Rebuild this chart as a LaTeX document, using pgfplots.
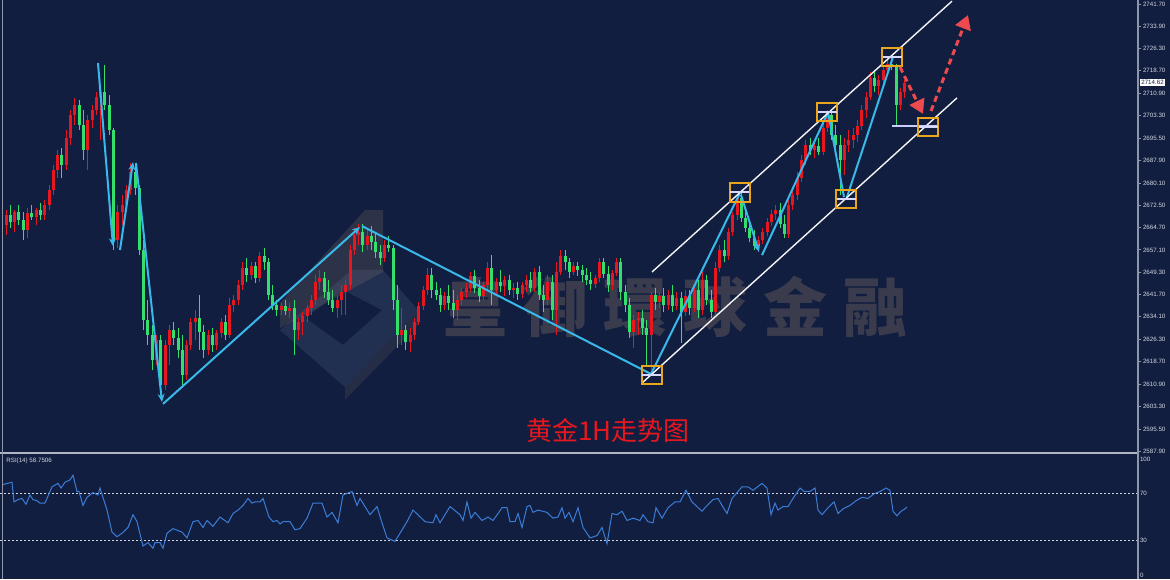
\documentclass[border=0pt]{standalone}
\usepackage{fontspec}
\setmainfont{Liberation Sans}
\newfontfamily\cjk{Noto Sans CJK SC}
\usepackage{pgfplots}
\pgfplotsset{compat=1.18}
\usepackage{pgfplotstable}
\usetikzlibrary{arrows.meta}
\definecolor{bgc}{HTML}{111E40}
\definecolor{upred}{HTML}{E8161E}
\definecolor{dngreen}{HTML}{34DF6C}
\definecolor{axgray}{HTML}{8D95A8}
\definecolor{lblgray}{HTML}{D2D6E0}
\definecolor{cyanl}{HTML}{39B9E9}
\definecolor{boxor}{HTML}{E9A51C}
\definecolor{arrred}{HTML}{EC4A4E}
\definecolor{rsiblue}{HTML}{3C7DD6}
\definecolor{wmgray}{HTML}{3A3C4E}
\definecolor{tanc}{HTML}{8C7C62}
\definecolor{logol}{HTML}{7A88A8}

\pgfplotstableread{
x o h l c
6 2665.7 2670.8 2662.2 2669.1
10.3 2669.1 2672.5 2664.6 2666.7
14.6 2666.7 2670.8 2663.3 2670.1
18.9 2670.1 2672.5 2665.7 2667.4
23.2 2667.4 2670.1 2660.5 2663.9
27.5 2663.9 2671.5 2661.2 2669.8
31.8 2669.8 2672.5 2667.4 2668.4
36.1 2668.4 2671.5 2665.7 2670.8
40.4 2670.8 2673.2 2667.4 2669.1
44.7 2669.1 2674.3 2667.4 2672.5
49 2672.5 2679.4 2670.8 2677.7
53.3 2677.7 2686.3 2676.0 2684.6
57.6 2684.6 2691.5 2681.8 2689.7
61.9 2689.7 2692.2 2681.8 2686.3
66.2 2686.3 2698.4 2684.6 2695.6
70.5 2695.6 2705.2 2693.2 2703.5
74.8 2703.5 2709.4 2700.1 2707.0
79.1 2707.0 2708.7 2698.4 2700.1
83.4 2700.1 2705.2 2688.0 2691.5
87.7 2691.5 2703.5 2684.6 2701.8
92 2701.8 2707.0 2699.0 2705.2
96.3 2705.2 2711.4 2703.5 2709.7
100.6 2709.7 2712.8 2694.9 2711.4
104.9 2711.4 2720.7 2705.2 2707.0
109.2 2707.0 2710.4 2696.6 2698.4
113.5 2698.4 2699.0 2657.1 2660.5
117.8 2660.5 2672.5 2657.8 2670.1
122.1 2670.1 2676.0 2665.7 2672.5
126.4 2672.5 2679.4 2670.8 2677.7
130.7 2677.7 2687.0 2676.0 2683.9
135 2683.9 2686.3 2676.0 2678.4
139.3 2678.4 2679.4 2655.3 2657.1
143.6 2657.1 2660.5 2629.5 2633.0
147.9 2633.0 2639.9 2624.4 2627.8
152.2 2627.8 2631.3 2615.8 2619.2
156.5 2619.2 2627.8 2617.5 2626.1
160.8 2626.1 2627.8 2608.9 2610.6
165.1 2610.6 2626.1 2608.9 2624.4
169.4 2624.4 2631.3 2617.5 2629.5
173.7 2629.5 2632.3 2624.4 2626.8
178 2626.8 2630.2 2619.9 2622.7
182.3 2622.7 2627.8 2610.6 2614.1
186.6 2614.1 2626.1 2612.3 2624.4
190.9 2624.4 2633.7 2622.7 2632.3
195.2 2632.3 2636.4 2626.1 2633.7
199.5 2633.7 2641.6 2622.7 2628.9
203.8 2628.9 2631.3 2619.9 2622.7
208.1 2622.7 2629.5 2620.9 2627.8
212.4 2627.8 2630.2 2622.0 2624.4
216.7 2624.4 2629.5 2622.7 2628.5
221 2628.5 2633.7 2626.8 2632.3
225.3 2632.3 2634.7 2626.1 2627.8
229.6 2627.8 2640.5 2626.8 2638.1
233.9 2638.1 2641.6 2635.7 2639.9
238.2 2639.9 2646.7 2638.1 2645.0
242.5 2645.0 2652.9 2643.3 2650.9
246.8 2650.9 2654.3 2646.1 2648.5
251.1 2648.5 2652.9 2646.7 2651.6
255.4 2651.6 2652.9 2645.7 2647.4
259.7 2647.4 2656.4 2646.1 2655.0
264 2655.0 2657.8 2650.2 2652.9
268.3 2652.9 2654.3 2639.9 2641.6
272.6 2641.6 2645.0 2636.4 2638.1
276.9 2638.1 2639.9 2634.4 2636.4
281.2 2636.4 2638.8 2634.7 2637.8
285.5 2637.8 2639.9 2634.7 2636.1
289.8 2636.1 2638.8 2633.7 2637.1
294.1 2637.1 2639.9 2620.9 2629.5
298.4 2629.5 2633.7 2626.1 2632.3
302.7 2632.3 2635.7 2627.8 2634.4
307 2634.4 2638.1 2632.3 2637.1
311.3 2637.1 2641.6 2634.7 2639.9
315.6 2639.9 2648.5 2638.1 2646.1
319.9 2646.1 2650.2 2643.3 2647.4
324.2 2647.4 2649.5 2640.5 2642.6
328.5 2642.6 2646.7 2638.1 2639.9
332.8 2639.9 2643.3 2635.7 2637.1
337.1 2637.1 2641.6 2633.7 2639.9
341.4 2639.9 2645.0 2634.7 2642.6
345.7 2642.6 2646.7 2634.7 2645.0
350 2645.0 2658.8 2643.3 2657.1
354.3 2657.1 2664.6 2655.3 2662.2
358.6 2662.2 2666.0 2658.8 2663.3
362.9 2663.3 2666.0 2656.4 2658.8
367.2 2658.8 2664.6 2657.1 2661.9
371.5 2661.9 2665.3 2657.1 2659.8
375.8 2659.8 2663.3 2654.3 2656.4
380.1 2656.4 2658.8 2651.9 2654.3
384.4 2654.3 2660.5 2652.9 2658.8
388.7 2658.8 2661.9 2656.4 2657.8
393 2657.8 2658.8 2636.4 2639.9
397.3 2639.9 2645.0 2623.3 2627.8
401.6 2627.8 2637.1 2624.4 2629.5
405.9 2629.5 2631.3 2622.7 2625.4
410.2 2625.4 2630.2 2622.0 2627.8
414.5 2627.8 2633.7 2626.1 2632.3
418.8 2632.3 2639.2 2631.3 2637.8
423.1 2637.8 2644.7 2636.4 2643.3
427.4 2643.3 2650.9 2641.6 2648.5
431.7 2648.5 2650.9 2640.5 2643.3
436 2643.3 2646.1 2639.9 2641.6
440.3 2641.6 2644.0 2635.7 2638.1
444.6 2638.1 2642.6 2636.4 2641.2
448.9 2641.2 2645.0 2636.4 2638.8
453.2 2638.8 2643.3 2633.7 2636.4
457.5 2636.4 2641.6 2633.0 2639.9
461.8 2639.9 2644.0 2638.1 2642.6
466.1 2642.6 2645.7 2640.5 2644.0
470.4 2644.0 2649.5 2642.6 2648.1
474.7 2648.1 2650.2 2642.3 2644.0
479 2644.0 2646.7 2639.2 2641.2
483.3 2641.2 2646.1 2639.9 2645.0
487.6 2645.0 2652.9 2643.3 2650.9
491.9 2650.9 2655.3 2638.1 2643.3
496.2 2643.3 2647.4 2641.6 2646.1
500.5 2646.1 2650.2 2642.6 2644.7
504.8 2644.7 2648.1 2641.2 2646.7
509.1 2646.7 2648.5 2641.6 2643.3
513.4 2643.3 2645.7 2640.5 2644.0
517.7 2644.0 2646.1 2639.9 2641.9
522 2641.9 2646.1 2640.5 2645.0
526.3 2645.0 2648.5 2642.6 2646.7
530.6 2646.7 2649.5 2642.6 2644.0
534.9 2644.0 2650.9 2642.6 2649.5
539.2 2649.5 2651.6 2639.9 2641.6
543.5 2641.6 2645.0 2635.7 2639.9
547.8 2639.9 2648.5 2638.1 2646.1
552.1 2646.1 2648.5 2633.0 2636.4
556.4 2636.4 2652.9 2627.8 2649.5
560.7 2649.5 2657.1 2648.5 2655.0
565 2655.0 2657.1 2650.2 2652.9
569.3 2652.9 2654.3 2647.4 2649.5
573.6 2649.5 2652.9 2648.5 2651.6
577.9 2651.6 2652.9 2648.1 2650.2
582.2 2650.2 2651.9 2646.1 2648.5
586.5 2648.5 2650.9 2645.0 2646.7
590.8 2646.7 2649.5 2643.3 2645.4
595.1 2645.4 2648.5 2644.0 2647.4
599.4 2647.4 2654.3 2646.1 2652.9
603.7 2652.9 2654.3 2647.4 2648.8
608 2648.8 2651.6 2642.6 2645.0
612.3 2645.0 2650.2 2643.3 2649.2
616.6 2649.2 2654.3 2648.1 2652.9
620.9 2652.9 2654.3 2639.9 2642.6
625.2 2642.6 2645.0 2635.7 2638.1
629.5 2638.1 2640.5 2626.8 2628.9
633.8 2628.9 2634.7 2623.3 2633.0
638.1 2633.0 2635.7 2627.8 2633.7
642.4 2633.7 2636.4 2627.8 2630.2
646.7 2630.2 2633.0 2617.5 2627.8
651 2627.8 2642.6 2615.8 2641.6
655.3 2641.6 2644.0 2636.4 2639.2
659.6 2639.2 2642.6 2637.1 2641.2
663.9 2641.2 2644.0 2635.7 2638.1
668.2 2638.1 2643.3 2636.4 2641.6
672.5 2641.6 2645.0 2635.7 2637.8
676.8 2637.8 2642.6 2636.4 2640.5
681.1 2640.5 2642.6 2625.1 2635.7
685.4 2635.7 2643.3 2634.4 2641.2
689.7 2641.2 2643.3 2634.7 2637.1
694 2637.1 2645.0 2635.7 2643.3
698.3 2643.3 2646.7 2633.7 2636.4
702.6 2636.4 2649.5 2634.7 2646.7
706.9 2646.7 2648.5 2638.1 2639.9
711.2 2639.9 2643.3 2633.7 2635.7
715.5 2635.7 2652.9 2634.7 2650.9
719.8 2650.9 2658.8 2649.5 2657.1
724.1 2657.1 2660.5 2652.9 2655.0
728.4 2655.0 2664.6 2653.6 2663.3
732.7 2663.3 2670.1 2661.9 2669.1
737 2669.1 2676.3 2667.4 2675.0
741.3 2675.0 2677.7 2666.7 2668.1
745.6 2668.1 2670.8 2663.3 2664.6
749.9 2664.6 2666.7 2659.8 2661.2
754.2 2661.2 2663.9 2657.1 2658.4
758.5 2658.4 2661.9 2656.4 2660.5
762.8 2660.5 2664.6 2659.1 2663.3
767.1 2663.3 2668.1 2661.9 2666.7
771.4 2666.7 2670.8 2665.3 2669.5
775.7 2669.5 2672.5 2667.4 2670.8
780 2670.8 2673.2 2664.6 2666.0
784.3 2666.0 2669.1 2661.2 2662.6
788.6 2662.6 2674.3 2661.2 2672.5
792.9 2672.5 2677.7 2670.8 2676.0
797.2 2676.0 2683.9 2674.3 2681.8
801.5 2681.8 2689.7 2680.5 2688.0
805.8 2688.0 2694.9 2686.3 2693.2
810.1 2693.2 2695.6 2689.7 2691.5
814.4 2691.5 2694.9 2688.7 2692.8
818.7 2692.8 2695.6 2689.7 2690.8
823 2690.8 2701.1 2689.7 2699.0
827.3 2699.0 2705.2 2697.7 2703.5
831.6 2703.5 2704.5 2694.9 2696.6
835.9 2696.6 2700.1 2691.5 2693.2
840.2 2693.2 2696.6 2676.0 2688.0
844.5 2688.0 2695.6 2682.9 2693.2
848.8 2693.2 2698.4 2690.8 2694.9
853.1 2694.9 2699.0 2692.2 2696.6
857.4 2696.6 2701.8 2694.2 2699.7
861.7 2699.7 2707.0 2698.4 2705.2
866 2705.2 2711.4 2702.5 2709.7
870.3 2709.7 2718.3 2708.7 2716.2
874.6 2716.2 2719.0 2711.4 2713.5
878.9 2713.5 2717.3 2710.4 2715.6
883.2 2715.6 2720.7 2713.8 2719.0
887.5 2719.0 2722.4 2716.9 2721.1
891.8 2721.1 2723.5 2719.0 2720.4
896.1 2720.4 2721.1 2699.4 2707.0
900.4 2707.0 2712.8 2705.2 2711.4
904.7 2711.4 2715.6 2709.4 2714.6
}\candles

\pgfplotstableread{
x r
3 78
12 80
14 63
18 65
22 66
26 61
30 69
33 65
37 64
40 62
45 62
52 76
58 79
61 75
65 80
70 82
73 86
77 72
79 72
83 60
87 67
93 71
98 69
100 75
107 56
112 37
117 33
122 36
128 41
133 52
137 46
143 25
148 28
153 23
155 28
160 28
163 23
167 36
173 40
182 37
187 32
193 46
198 47
203 41
207 47
213 42
220 50
228 45
233 53
238 56
243 60
248 66
252 62
255 63
260 63
263 66
269 50
273 46
277 47
280 44
283 46
290 46
295 39
300 40
307 49
313 62
322 62
327 50
332 54
338 45
343 69
352 72
357 60
360 66
370 52
377 59
382 45
387 32
395 29
400 36
407 46
413 56
425 46
433 45
436 52
440 45
450 59
460 52
463 47
467 63
471 49
475 54
482 47
488 50
493 47
498 53
502 58
507 58
510 46
515 46
518 53
522 41
527 59
530 60
533 54
538 56
547 54
553 49
558 50
562 58
565 49
569 54
573 46
578 58
583 41
590 32
597 34
602 41
607 27
612 53
617 52
622 55
627 47
633 49
640 47
643 52
648 46
653 45
656 58
662 49
668 58
675 63
680 63
686 73
692 63
702 55
705 58
713 65
718 66
722 60
727 53
732 66
737 71
742 76
748 76
753 73
762 79
767 75
771 52
775 62
778 56
783 59
788 59
793 66
800 75
804 72
810 72
815 75
818 56
822 52
828 58
834 63
838 53
843 57
850 60
856 64
862 67
868 66
874 70
880 72
886 75
890 73
893 55
897 51
901 55
905 57
907 58.75
}\rsidata

\newcommand{\lvlbox}[2]{%
  \draw[boxor, line width=1pt] (axis cs:#1-10,#2-3.1) rectangle (axis cs:#1+10,#2+3.1);
  \draw[white!85!blue, line width=1pt] (axis cs:#1-9.5,#2) -- (axis cs:#1+9.5,#2);
}

\begin{document}
\begin{tikzpicture}
\useasboundingbox (0,0) rectangle (585pt,-289.5pt);
\fill[bgc] (0,0) rectangle (585pt,-289.5pt);

\begin{axis}[
  at={(0pt,0pt)}, anchor=north west, scale only axis,
  width=569pt, height=226pt,
  xmin=0, xmax=1138, ymin=2587.56, ymax=2743.08,
  axis x line=none, axis y line*=right,
  y axis line style={draw=axgray, line width=0.6pt},
  ytick={2587.9,2595.5,2603.3,2610.9,2618.7,2626.3,2634.1,2641.7,2649.3,2657.1,2664.7,2672.5,2680.1,2687.9,2695.5,2703.3,2710.9,2718.7,2726.3,2733.9,2741.7},
  yticklabels={2587.90,2595.50,2603.30,2610.90,2618.70,2626.30,2634.10,2641.70,2649.30,2657.10,2664.70,2672.50,2680.10,2687.90,2695.50,2703.30,2710.90,2718.70,2726.30,2733.90,2741.70},
  tick align=outside, major tick length=1.5pt,
  ytick style={draw=axgray, line width=0.4pt},
  yticklabel style={font=\fontsize{3.1}{3.6}\selectfont, text=lblgray, inner sep=0.8pt},
  clip mode=individual,
]
% watermark logo
\fill[tanc, opacity=0.22] (axis cs:365,2670.8) -- (axis cs:383,2670.8) -- (axis cs:383,2649.5) -- (axis cs:280,2630.2) -- (axis cs:280,2638.8) -- cycle;
\fill[logol, opacity=0.16, even odd rule]
  (axis cs:352,2650.2) -- (axis cs:383,2650.2) -- (axis cs:418,2636.4) -- (axis cs:345,2609.9) -- (axis cs:280,2629.5) -- cycle
  (axis cs:343,2643.3) -- (axis cs:382,2636.4) -- (axis cs:343,2624.4) -- (axis cs:305,2633.7) -- cycle;
\fill[tanc, opacity=0.16] (axis cs:345,2609.9) -- (axis cs:418,2636.4) -- (axis cs:418,2631.3) -- (axis cs:345,2605.5) -- cycle;
\node[text=wmgray, font=\cjk\bfseries\fontsize{32}{34}\selectfont] at (axis cs:675,2637.4)
  {皇\hspace{8pt}御\hspace{8pt}環\hspace{8pt}球\hspace{8pt}金\hspace{8pt}融};

% candles: wicks
\addplot[draw=none, forget plot,
  restrict expr to domain={\thisrow{c}-\thisrow{o}}{0:1000},
  error bars/.cd, y dir=plus, y explicit, error mark=none,
  error bar style={draw=upred, line width=0.5pt, solid}]
  table[x=x, y=l, y error expr=\thisrow{h}-\thisrow{l}] {\candles};
\addplot[draw=none, forget plot,
  restrict expr to domain={\thisrow{o}-\thisrow{c}}{0.001:1000},
  error bars/.cd, y dir=plus, y explicit, error mark=none,
  error bar style={draw=dngreen, line width=0.5pt, solid}]
  table[x=x, y=l, y error expr=\thisrow{h}-\thisrow{l}] {\candles};
% candles: bodies
\addplot[draw=none, forget plot,
  restrict expr to domain={\thisrow{c}-\thisrow{o}}{0:1000},
  error bars/.cd, y dir=plus, y explicit, error mark=none,
  error bar style={draw=upred, line width=1.5pt, solid}]
  table[x=x, y=o, y error expr=\thisrow{c}-\thisrow{o}] {\candles};
\addplot[draw=none, forget plot,
  restrict expr to domain={\thisrow{o}-\thisrow{c}}{0.001:1000},
  error bars/.cd, y dir=plus, y explicit, error mark=none,
  error bar style={draw=dngreen, line width=1.5pt, solid}]
  table[x=x, y=c, y error expr=\thisrow{o}-\thisrow{c}] {\candles};

% trend lines
\draw[cyanl, line width=1pt, -{Stealth[length=4pt,width=3.5pt]}] (axis cs:98,2721.4) -- (axis cs:113,2658.4);
\draw[cyanl, line width=1pt, -{Stealth[length=4pt,width=3.5pt]}] (axis cs:120,2657.1) -- (axis cs:133,2687.3);
\draw[cyanl, line width=1pt, -{Stealth[length=4pt,width=3.5pt]}] (axis cs:136,2687.0) -- (axis cs:162,2604.8);
\draw[cyanl, line width=1pt, -{Stealth[length=4pt,width=3.5pt]}] (axis cs:163,2604.1) -- (axis cs:360,2665.0);
\draw[cyanl, line width=1pt] (axis cs:362,2665.3) -- (axis cs:651,2614.4);
\draw[cyanl, line width=1pt] (axis cs:651,2614.4) -- (axis cs:740,2676.7);
\draw[cyanl, line width=1pt, -{Stealth[length=4pt,width=3.5pt]}] (axis cs:741,2676.0) -- (axis cs:759,2656.4);
\draw[cyanl, line width=1pt] (axis cs:762,2655.3) -- (axis cs:828,2704.5);
\draw[cyanl, line width=1pt] (axis cs:828,2704.5) -- (axis cs:844,2675.3);
\draw[cyanl, line width=1pt] (axis cs:847,2675.3) -- (axis cs:893,2723.5);
% channel
\draw[white!92!gray, line width=0.7pt] (axis cs:652,2649.5) -- (axis cs:952,2742.7);
\draw[white!92!gray, line width=0.7pt] (axis cs:642,2611.3) -- (axis cs:957,2709.4);
% level line
\draw[white!80!blue, line width=0.8pt] (axis cs:892,2699.7) -- (axis cs:937,2699.7);
% boxes
\lvlbox{651.7}{2614.0}
\lvlbox{739.5}{2676.85}
\lvlbox{846}{2674.78}
\lvlbox{827}{2704.65}
\lvlbox{892}{2723.57}
\lvlbox{928}{2699.38}
% red dashed arrows
\draw[arrred, line width=1.5pt, dash pattern=on 3pt off 2pt, -{Triangle[length=7pt,width=8pt]}] (axis cs:900,2720.0) -- (axis cs:923,2703.9);
\draw[arrred, line width=1.5pt, dash pattern=on 3pt off 2pt, -{Triangle[length=7pt,width=8pt]}] (axis cs:931,2704.9) -- (axis cs:968,2737.9);
% title
\node[text=upred, font=\cjk\fontsize{13}{15}\selectfont] at (axis cs:608,2595.1) {黄金1H走势图};
% price tag
\node[fill=white, text=bgc, font=\fontsize{3.1}{3.6}\selectfont, inner sep=0.7pt, anchor=west] at (axis cs:1139.5,2714.62) {2714.62};
\end{axis}

\begin{axis}[
  at={(0pt,-227.5pt)}, anchor=north west, scale only axis,
  width=569pt, height=62pt,
  xmin=0, xmax=1138, ymin=-3.45, ymax=103.45,
  axis x line=none, axis y line*=right,
  y axis line style={draw=axgray, line width=0.6pt},
  ytick={0,30,70,100}, yticklabels={0,30,70,100},
  tick align=outside, major tick length=0pt,
  yticklabel style={font=\fontsize{3.1}{3.6}\selectfont, text=lblgray, inner sep=0.8pt},
  clip mode=individual,
]
\draw[lblgray, line width=0.4pt, dash pattern=on 1pt off 1pt] (axis cs:0,70) -- (axis cs:1138,70);
\draw[lblgray, line width=0.4pt, dash pattern=on 1pt off 1pt] (axis cs:0,30) -- (axis cs:1138,30);
\addplot[rsiblue, line width=0.5pt] table[x=x, y=r] {\rsidata};
\node[anchor=north west, text=lblgray, font=\fontsize{3.1}{3.6}\selectfont, inner sep=0pt] at (axis cs:6,101) {RSI(14) 58.7506};
\end{axis}

\draw[axgray!70!white, line width=1pt] (0,-226.5pt) -- (569pt,-226.5pt);
\draw[axgray, line width=0.8pt] (1.3pt,0) -- (1.3pt,-289.5pt);
\draw[axgray, line width=0.6pt] (569pt,0) -- (569pt,-289.5pt);
\end{tikzpicture}
\end{document}
